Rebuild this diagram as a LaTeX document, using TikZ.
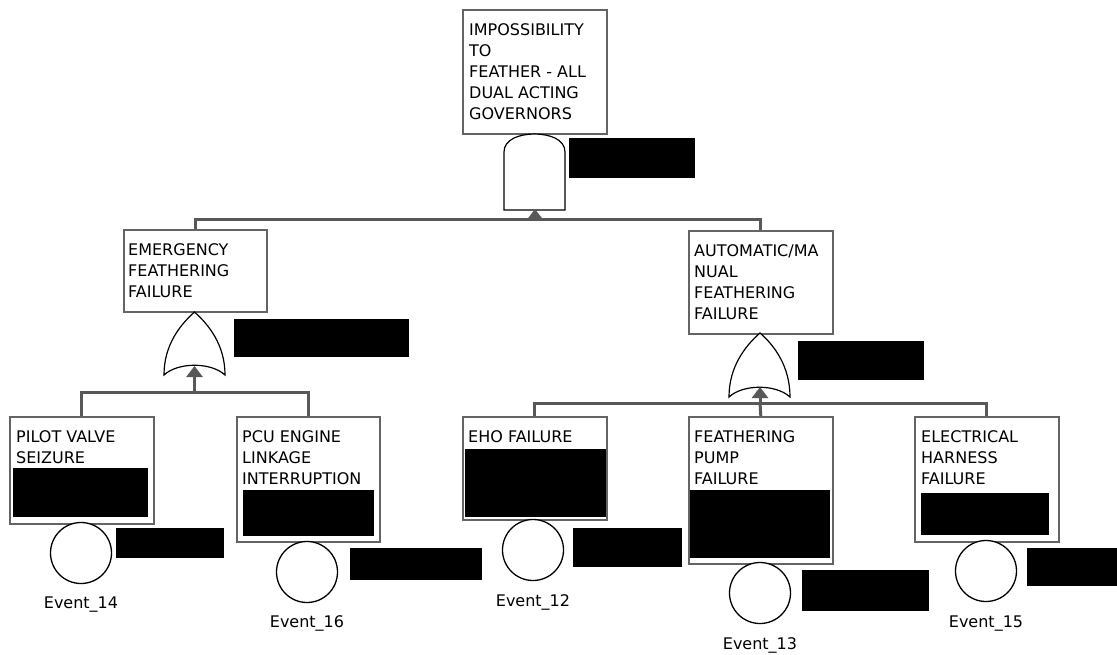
\documentclass[tikz,border=0pt]{standalone}
\usepackage{fontspec}
\setmainfont{DejaVu Sans}
\usetikzlibrary{arrows.meta}
\definecolor{connector}{RGB}{88,88,88}
\definecolor{frame}{RGB}{100,100,100}

\begin{document}
\begin{tikzpicture}[x=1pt,y=-1pt,
  evbox/.style={draw=frame, line width=1.6pt, fill=white, anchor=north west, inner sep=0pt},
  boxtext/.style={anchor=north west, inner sep=0pt, align=left, font=\fontsize{16}{21}\selectfont},
  redact/.style={fill=black, anchor=north west, inner sep=0pt},
  gate/.style={draw=black, line width=1.2pt, fill=white},
  event/.style={circle, draw=black, line width=1.3pt, fill=white, minimum size=61pt, inner sep=0pt},
  evlabel/.style={anchor=base, inner sep=0pt, font=\fontsize{16}{21}\selectfont},
  conn/.style={draw=connector, line width=3pt},
  tip/.style={-{Triangle[width=16pt,length=11pt]}}]
\useasboundingbox (0,0) rectangle (1117,655);

% connectors (drawn first, boxes sit on top)
\node[evbox, minimum width=143pt, minimum height=82pt] (emer) at (123,229) {};
\node[evbox, minimum width=144pt, minimum height=103pt] (auto) at (688,230) {};
\node[evbox, minimum width=144pt, minimum height=107pt] (pilot) at (9,416) {};
\node[evbox, minimum width=143pt, minimum height=125pt] (pcu) at (236,416) {};
\node[evbox, minimum width=144pt, minimum height=103pt] (eho) at (462,416) {};
\node[evbox, minimum width=144pt, minimum height=147pt] (pump) at (688,416) {};
\node[evbox, minimum width=144pt, minimum height=125pt] (elec) at (914,416) {};
\node[evbox, minimum width=144pt, minimum height=124pt] (top) at (462,9) {};

\coordinate (bus0) at (535,220);
\coordinate (in0) at (535,209);
\coordinate (bus1) at (194.5,392);
\coordinate (in1) at (194.5,366);
\coordinate (bus2) at (760,403);
\coordinate (in2) at (760,387);

\draw[conn] (emer.north) |- (bus0) -| (auto.north);
\draw[conn] (pilot.north) |- (bus1) -| (pcu.north);
\draw[conn] (eho.north) |- (bus2) -| (elec.north);
\draw[conn] (bus2) -- (pump.north);

% gates
\draw[gate] (504,210) -- (504,152) .. controls (504,139) and (520,134) .. (534.5,134)
  .. controls (549,134) and (565,139) .. (565,152) -- (565,210) -- cycle;
\draw[gate] (194.5,312) .. controls (180,325) and (164,345) .. (164,375)
  .. controls (178,362) and (211,362) .. (225,375)
  .. controls (225,345) and (209,325) .. (194.5,312) -- cycle;
\draw[gate] (760,333) .. controls (745,346) and (729,367) .. (729,397)
  .. controls (743,384) and (776,384) .. (790,397)
  .. controls (790,367) and (775,346) .. (760,333) -- cycle;

\draw[conn, tip] (bus0) -- (in0);
\draw[conn, tip] (bus1) -- (in1);
\draw[conn, tip] (bus2) -- (in2);

% box texts
\node[boxtext] (top-t) at ([xshift=7pt,yshift=-14pt]top.north west)
  {IMPOSSIBILITY\\TO\\FEATHER - ALL\\DUAL ACTING\\GOVERNORS};
\node[boxtext] (emer-t) at ([xshift=5pt,yshift=-14.5pt]emer.north west)
  {EMERGENCY\\FEATHERING\\FAILURE};
\node[boxtext] (auto-t) at ([xshift=6pt,yshift=-14pt]auto.north west)
  {AUTOMATIC/MA\\NUAL\\FEATHERING\\FAILURE};
\node[boxtext] (pilot-t) at ([xshift=7pt,yshift=-14.5pt]pilot.north west)
  {PILOT VALVE\\SEIZURE};
\node[boxtext] (pcu-t) at ([xshift=6pt,yshift=-14.5pt]pcu.north west)
  {PCU ENGINE\\LINKAGE\\INTERRUPTION};
\node[boxtext] (eho-t) at ([xshift=6pt,yshift=-14.5pt]eho.north west)
  {EHO FAILURE};
\node[boxtext] (pump-t) at ([xshift=6pt,yshift=-14.5pt]pump.north west)
  {FEATHERING\\PUMP\\FAILURE};
\node[boxtext] (elec-t) at ([xshift=7pt,yshift=-14.5pt]elec.north west)
  {ELECTRICAL\\HARNESS\\FAILURE};

% blacked-out fields
\node[redact, minimum width=126pt, minimum height=40pt] (r-top) at (569,138) {};
\node[redact, minimum width=175pt, minimum height=38pt] (r-emer) at (234,319) {};
\node[redact, minimum width=126pt, minimum height=39pt] (r-auto) at (798,341) {};
\node[redact, minimum width=135pt, minimum height=49pt] (r-pilot) at (13,468) {};
\node[redact, minimum width=131pt, minimum height=46pt] (r-pcu) at (243,490) {};
\node[redact, minimum width=141pt, minimum height=68pt] (r-eho) at (465,449) {};
\node[redact, minimum width=140pt, minimum height=68pt] (r-pump) at (690,490) {};
\node[redact, minimum width=128pt, minimum height=42pt] (r-elec) at (921,493) {};

% basic events
\node[event] (e14) at (81,553) {};
\node[event] (e16) at (307,572) {};
\node[event] (e12) at (533,550) {};
\node[event] (e13) at (760,593) {};
\node[event] (e15) at (986,571) {};

\node[redact, minimum width=108pt, minimum height=30pt] (r-e14) at (116,528) {};
\node[redact, minimum width=132pt, minimum height=32pt] (r-e16) at (350,548) {};
\node[redact, minimum width=109pt, minimum height=39pt] (r-e12) at (573,528) {};
\node[redact, minimum width=127pt, minimum height=41pt] (r-e13) at (802,570) {};
\node[redact, minimum width=90pt, minimum height=38pt] (r-e15) at (1027,548) {};

\node[evlabel] (e14-l) at (81,608) {Event\_14};
\node[evlabel] (e16-l) at (307,627) {Event\_16};
\node[evlabel] (e12-l) at (533,606) {Event\_12};
\node[evlabel] (e13-l) at (760,649) {Event\_13};
\node[evlabel] (e15-l) at (986,627) {Event\_15};
\end{tikzpicture}
\end{document}
